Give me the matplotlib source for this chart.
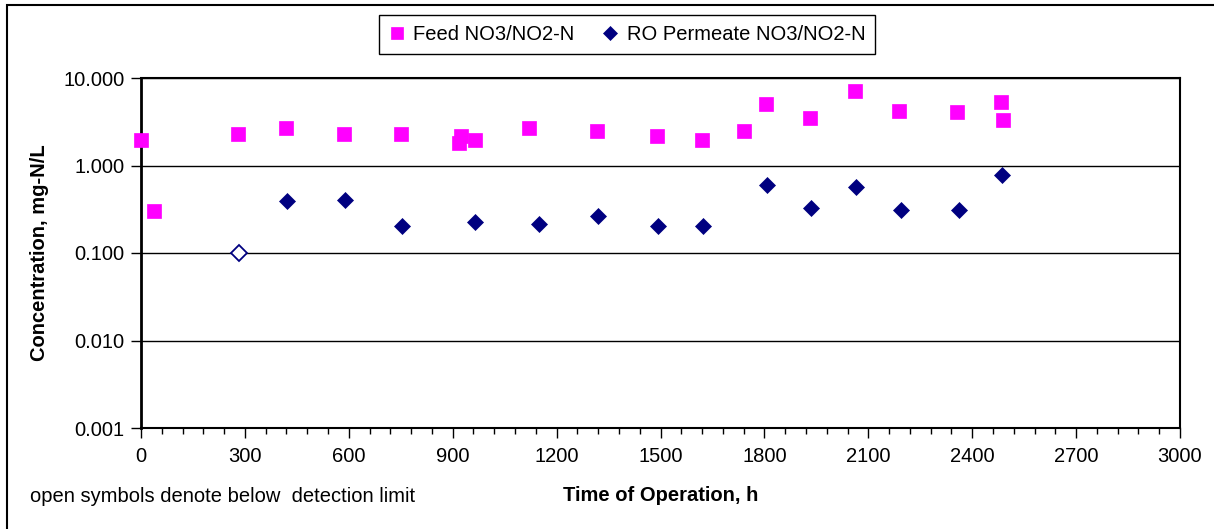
import numpy as np
import matplotlib.pyplot as plt
from matplotlib.ticker import FixedLocator, MultipleLocator, FormatStrFormatter
from matplotlib.patches import Rectangle

plt.rcParams['font.family'] = ['Liberation Sans', 'DejaVu Sans']

# data
feed_h = [0, 37, 279, 419, 587, 750, 918, 924, 964, 1119, 1316, 1490, 1619,
          1742, 1804, 1933, 2062, 2190, 2357, 2483, 2488]
feed_conc = [1.98, 0.30, 2.30, 2.70, 2.30, 2.30, 1.80, 2.16, 1.98, 2.70, 2.45,
             2.19, 1.98, 2.45, 4.98, 3.47, 7.07, 4.25, 4.07, 5.30, 3.27]

perm_h = [282, 422, 590, 753, 964, 1150, 1319, 1493, 1622, 1807, 1935, 2065,
          2194, 2362, 2485]
perm_conc = [0.100, 0.395, 0.400, 0.205, 0.225, 0.215, 0.264, 0.203, 0.203,
             0.596, 0.325, 0.565, 0.306, 0.306, 0.77]
perm_below_dl = [True, False, False, False, False, False, False, False, False,
                 False, False, False, False, False, False]

y_ticks = [0.001, 0.01, 0.1, 1, 10]

feed_color = '#FF00FF'
perm_color = '#000080'

fig = plt.figure(figsize=(12.14, 5.29), dpi=100)
ax = fig.add_axes([141 / 1214, 1 - 428 / 529, 1039 / 1214, 350 / 529])

ax.plot(feed_h, feed_conc, ls='none', marker='s', ms=10.5, mfc=feed_color,
        mec=feed_color, mew=0.5, label='Feed NO3/NO2-N', zorder=3,
        clip_on=False)

ph = np.array(perm_h)
pc = np.array(perm_conc)
bdl = np.array(perm_below_dl)
ax.plot(ph[~bdl], pc[~bdl], ls='none', marker='D', ms=8.5, mfc=perm_color,
        mec=perm_color, mew=0.5, label='RO Permeate NO3/NO2-N', zorder=3)
ax.plot(ph[bdl], pc[bdl], ls='none', marker='D', ms=8.0, mfc='white',
        mec=perm_color, mew=1.3, zorder=3)

ax.set_yscale('log')
ax.set_ylim(0.001, 10)
ax.set_xlim(0, 3000)
ax.yaxis.set_major_locator(FixedLocator(y_ticks))
ax.yaxis.set_minor_locator(FixedLocator([]))
ax.yaxis.set_major_formatter(FormatStrFormatter('%.3f'))
ax.xaxis.set_major_locator(MultipleLocator(300))
ax.xaxis.set_minor_locator(MultipleLocator(60))

ax.grid(True, axis='y', which='major', color='black', lw=1.0)
ax.set_axisbelow(True)
for s in ax.spines.values():
    s.set_color('black')
    s.set_linewidth(1.5)
ax.spines['left'].set_linewidth(2.0)

ax.tick_params(axis='both', which='major', direction='out', length=7,
               width=1.0, labelsize=14.5, colors='black')
ax.tick_params(axis='x', which='minor', direction='out', length=4, width=1.0)
ax.tick_params(axis='x', which='major', pad=7)
ax.tick_params(axis='y', which='major', pad=5)

ax.set_xlabel('Time of Operation, h', fontsize=14.5, fontweight='bold',
              labelpad=14)
ax.set_ylabel('Concentration, mg-N/L', fontsize=14.5, fontweight='bold',
              labelpad=10)

fig.text(30 / 1214, 1 - 497 / 529, 'open symbols denote below  detection limit',
         fontsize=14.5, ha='left', va='center')

leg = fig.legend(loc='upper center', bbox_to_anchor=(627 / 1214, 1 - 5 / 529),
                 ncol=2, fontsize=14.5, frameon=True, fancybox=False,
                 edgecolor='black', framealpha=1, handlelength=0.8,
                 handletextpad=0.4, columnspacing=1.4, borderpad=0.5,
                 markerscale=0.85)
leg.get_frame().set_linewidth(1.0)

# outer chart border
fig.patches.append(Rectangle((7 / 1214, -0.05), 1.1, 1 - 5 / 529 + 0.05,
                             transform=fig.transFigure, fill=False,
                             edgecolor='black', lw=1.5, zorder=0))

fig.savefig('out.png', dpi=100)
